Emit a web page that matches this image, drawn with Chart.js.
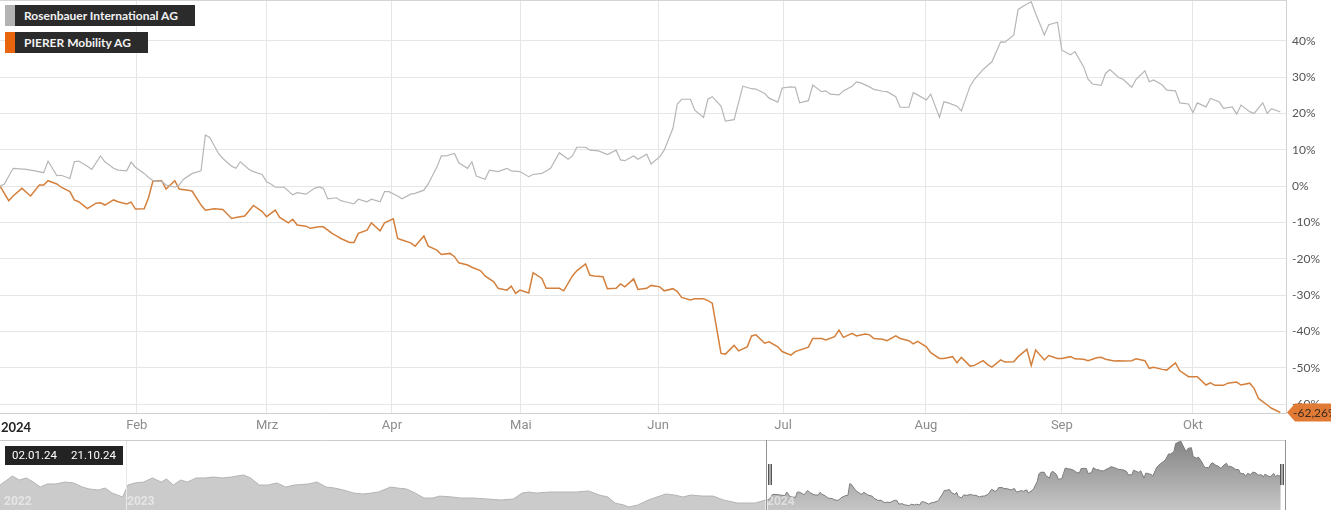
<!DOCTYPE html>
<html>
<head>
<meta charset="utf-8">
<script src="https://cdn.jsdelivr.net/npm/chart.js@4.4.1/dist/chart.umd.min.js"></script>
<style>
  body { margin: 0; background: #fff; width: 1331px; height: 510px; overflow: hidden; position: relative; font-family: Lato, sans-serif; }
  #main { position: absolute; left: 0; top: 0; }
  #nav { position: absolute; left: 0; top: 440px; }
  .leg { position: absolute; left: 5px; height: 21px; display: flex; }
  .leg .sw { width: 10px; height: 21px; }
  .leg .lab { background: #2b2b2b; color: #f2f2f2; font: bold 12px Lato, sans-serif; line-height: 21px; padding: 0 17px 0 9px; }
  #year { position: absolute; left: 1px; top: 419px; font: bold 13px Lato, sans-serif; color: #222; }
  #range { position: absolute; left: 5px; top: 446px; width: 118px; height: 19px; background: #232323; color: #fff; font: 11.5px Roboto, sans-serif; line-height: 19px; }
  #range span { position: absolute; top: 0; }
  .yr { position: absolute; top: 494px; font: bold 12px Roboto, sans-serif; color: rgba(255,255,255,0.5); }
</style>
</head>
<body>
<canvas id="main" width="1331" height="437"></canvas>
<canvas id="nav" width="1331" height="70"></canvas>

<div class="leg" style="top:5px"><span class="sw" style="background:#b3b3b3"></span><span class="lab">Rosenbauer International AG</span></div>
<div class="leg" style="top:32px"><span class="sw" style="background:#e8650d"></span><span class="lab">PIERER Mobility AG</span></div>
<div id="year">2024</div>
<div id="range"><span style="left:7px">02.01.24</span><span style="left:66px">21.10.24</span></div>
<span class="yr" style="left:4px">2022</span>
<span class="yr" style="left:127px">2023</span>
<span class="yr" style="left:767px">2024</span>

<script>
// Days since 02.01.2024, performance in %
const rbDays = [0,1,3,6,8,10,11,13,14,16,17,18,20,21,23,24,26,27,29,30,31,33,34,35,37,38,40,41,42,44,46,47,48,50,51,53,54,55,57,58,
  60,61,62,63,65,67,68,70,72,73,74,75,77,78,79,81,82,84,85,87,88,89,91,92,94,95,97,98,100,101,102,104,105,107,108,109,111,112,114,116,117,119,
  121,122,124,126,128,130,131,132,134,135,137,139,141,142,143,145,146,148,149,151,152,154,155,156,158,159,161,162,163,165,166,168,169,170,172,173,175,176,178,179,
  181,182,183,185,186,188,189,190,192,193,195,196,197,199,200,202,203,205,206,208,209,210,212,213,215,216,217,219,220,222,223,225,226,227,229,230,232,233,235,236,237,239,
  240,242,243,245,246,248,249,250,252,253,254,256,257,259,260,262,263,264,266,267,269,270,272,273,274,276,277,279,280,282,283,284,286,287,289,290,291,293];
const rbPct = [0,0.6,4.9,4.6,4.2,3.7,6.9,2.9,3.0,2.1,6.7,6.9,5.5,4.6,8.3,6.7,4.9,4.4,4.2,6.6,5.2,3.5,2.4,1.5,1.3,0.3,-0.3,0.3,1.9,3.5,4.2,14.1,13.4,9.0,7.6,5.5,4.9,6.7,4.6,4.0,
  3.2,1.2,0.6,-0.3,-0.3,-2.4,-1.8,-2.2,-0.6,-0.2,-0.6,-3.5,-3.2,-4.0,-4.3,-4.9,-3.6,-4.3,-3.6,-4.3,-1.5,-1.5,-2.7,-3.5,-2.2,-2.0,-1.1,0.6,5.3,8.3,8.3,9.0,6.4,4.9,6.7,2.8,1.9,4.4,4.0,4.9,4.2,4.0,
  2.6,3.2,3.5,4.9,9.2,7.4,8.3,10.7,10.7,9.9,9.7,8.7,9.9,7.2,7.0,8.3,7.4,8.8,6.1,8.1,9.9,15.9,22.6,23.9,23.9,20.9,18.9,23.9,24.6,22.0,17.9,18.3,22.9,27.5,26.8,26.7,25.5,24.2,23.1,27.0,
  27.3,27.2,22.9,23.5,27.8,26.0,26.2,25.3,25.1,26.2,27.5,28.7,28.4,27.3,26.6,26.1,26.0,24.6,21.7,21.7,25.7,25.1,23.7,25.3,18.9,23.2,22.9,22.0,20.7,27.5,29.4,32.1,33.2,34.2,39.7,39.6,41.6,48.6,50.1,50.7,47.5,41.6,
  44.4,45.1,37.4,36.1,37.0,32.8,29.4,28.1,27.7,31.0,32.1,29.9,29.4,27.2,29.4,31.7,28.7,29.2,27.8,26.4,26.2,22.9,22.6,20.2,22.9,21.8,24.1,23.2,21.4,21.8,19.8,22.3,20.5,20.0,22.9,20.0,21.3,20.4];

const pmDays = [0,2,3,5,7,9,10,11,13,14,16,17,18,20,22,23,24,26,27,29,30,31,33,34,35,37,38,40,41,43,44,46,47,49,51,53,54,56,58,
  60,61,63,64,66,67,68,70,71,73,74,76,77,78,80,81,82,84,85,87,88,90,91,92,94,95,97,98,100,101,103,104,105,107,108,110,111,113,114,116,117,118,119,
  121,122,124,125,127,128,129,131,132,134,135,136,138,139,141,142,143,145,146,148,149,151,152,154,155,156,158,159,161,162,163,165,166,168,169,171,172,173,175,176,178,179,
  181,182,185,186,188,189,191,192,193,195,196,198,199,200,202,203,205,206,208,209,210,212,213,215,216,218,219,220,222,223,225,226,227,229,230,232,233,235,236,237,239,
  240,242,243,245,246,248,249,251,252,253,255,256,257,259,260,262,263,264,266,267,269,270,272,273,274,276,277,278,280,281,283,284,286,287,288,290,291,293];
const pmPct = [0,-4.0,-2.7,-0.6,-2.7,0.3,0.3,1.5,0.6,-0.3,-1.5,-3.8,-4.3,-6.2,-4.7,-4.6,-5.2,-3.8,-4.3,-4.9,-4.4,-6.3,-6.2,-3.1,1.4,1.5,-0.8,1.5,-0.8,-1.1,-1.4,-5.2,-6.6,-6.2,-6.4,-8.9,-8.6,-8.2,-5.3,
  -7.0,-8.4,-6.6,-8.6,-10.1,-9.1,-10.7,-11.0,-11.6,-11.2,-11.2,-13.0,-13.7,-14.4,-15.5,-15.5,-13.0,-12.1,-10.1,-12.3,-10.1,-9.0,-14.4,-14.8,-15.6,-16.5,-13.7,-16.5,-17.6,-18.8,-18.5,-19.4,-21.1,-21.7,-22.3,-23.3,-24.7,-26.3,-28.1,-28.6,-27.5,-29.5,-28.6,
  -29.4,-23.8,-25.4,-28.1,-28.1,-28.1,-28.8,-24.7,-23.3,-21.4,-24.5,-24.7,-24.9,-28.2,-28.1,-26.9,-27.7,-25.5,-28.4,-28.1,-27.3,-27.7,-28.8,-28.2,-29.0,-30.6,-31.3,-31.0,-31.0,-31.5,-32.2,-46.0,-46.2,-43.8,-45.3,-44.2,-41.2,-40.9,-43.2,-42.8,-44.2,-45.5,
  -46.5,-45.5,-44.3,-41.9,-41.9,-42.3,-41.4,-39.6,-41.6,-40.5,-41.2,-40.7,-40.9,-41.9,-42.1,-42.5,-41.2,-41.9,-42.5,-43.4,-42.7,-44.2,-45.8,-47.4,-47.4,-46.9,-48.6,-47.1,-49.5,-49.3,-48.0,-49.1,-49.8,-47.8,-48.4,-48.3,-46.9,-44.9,-49.3,-45.1,-47.8,
  -46.6,-47.4,-47.4,-46.9,-47.5,-47.6,-48.0,-47.2,-47.1,-47.6,-48.1,-48.0,-48.1,-48.0,-47.5,-48.0,-50.1,-49.8,-50.4,-50.6,-48.6,-50.8,-52.4,-52.4,-52.4,-54.7,-54.1,-54.8,-54.8,-54.2,-53.9,-54.7,-54.2,-55.6,-58.4,-60.2,-61.1,-62.26];

// Navigator history: days since 21.10.2022, Rosenbauer performance vs 02.01.24 in %
const navHistDays = [0,4,7,11,15,19,23,27,32,37,42,47,51,56,60,64,67,70,73,77,82,87,92,95,99,103,107,112,117,122,127,132,139,143,148,153,158,163,168,
  176,181,186,191,196,202,207,212,216,223,227,232,237,242,247,251,258,263,270,278,286,293,298,302,306,314,321,329,336,342,347,351,356,359,364,370,375,380,385,390,394,401,407,413,421,431,437];
const navHistPct = [12.9,17.2,20.7,17.2,19.0,15.5,11.2,13.8,13.8,15.5,14.7,11.2,9.5,8.6,10.3,6.0,4.3,2.6,12.9,14.7,15.5,19.0,15.5,18.1,12.9,17.2,15.5,19.0,19.0,19.8,19.0,19.8,21.6,19.0,12.9,12.9,14.7,11.2,12.9,
  13.8,15.5,11.2,10.3,8.6,6.0,5.2,6.0,6.9,11.2,10.3,9.5,6.0,1.7,1.7,3.4,2.6,1.7,1.7,0.9,0,0.9,6.0,6.9,6.0,6.9,6.9,6.9,7.8,4.3,2.6,-2.6,-4.3,-6.0,-4.3,0,2.6,5.2,4.3,2.6,4.3,3.4,3.4,0,-2.6,-2.6,0];
const navOffset2024 = 438;   // 02.01.24 in navigator days
const navYear2023 = 72;      // 01.01.23 in navigator days

// month grid positions (days since 02.01.24) as placed in the original
const monthTicks = [31.3, 61.1, 89.7, 119.2, 150.6, 179.2, 211.9, 243, 273];
const monthLabels = ['Feb', 'Mrz', 'Apr', 'Mai', 'Jun', 'Jul', 'Aug', 'Sep', 'Okt'];
const yTicks = [-60, -50, -40, -30, -20, -10, 0, 10, 20, 30, 40];

Chart.defaults.font.family = 'Lato';

function toPoints(days, vals, offset = 0) {
    return days.map((d, i) => ({ x: d + offset, y: vals[i] }));
}

// Frame line on top and the end value flag of PIERER
const mainDecor = {
    id: 'mainDecor',
    afterDraw(chart) {
        const { ctx, chartArea: a } = chart;
        ctx.save();
        ctx.strokeStyle = '#d4d4d4';
        ctx.lineWidth = 1;
        ctx.beginPath();
        ctx.moveTo(a.left, a.top + 0.5);
        ctx.lineTo(a.right, a.top + 0.5);
        ctx.stroke();

        const meta = chart.getDatasetMeta(1);
        const last = meta.data[meta.data.length - 1];
        const y = last.y;
        const w = chart.width;
        ctx.fillStyle = '#e07a35';
        ctx.beginPath();
        ctx.moveTo(a.right + 1, y);
        ctx.lineTo(a.right + 9, y - 9);
        ctx.lineTo(w, y - 9);
        ctx.lineTo(w, y + 9);
        ctx.lineTo(a.right + 9, y + 9);
        ctx.closePath();
        ctx.fill();
        ctx.fillStyle = '#3a2a20';
        ctx.font = '12px Lato';
        ctx.textBaseline = 'middle';
        ctx.fillText(pmPct[pmPct.length - 1].toFixed(2).replace('.', ',') + '%', a.right + 7, y + 1);
        ctx.restore();
    }
};

new Chart(document.getElementById('main'), {
    type: 'line',
    data: {
        datasets: [{
            label: 'Rosenbauer International AG',
            data: toPoints(rbDays, rbPct),
            borderColor: '#b6b6b6',
            borderWidth: 1.2,
            pointRadius: 0,
            tension: 0
        }, {
            label: 'PIERER Mobility AG',
            data: toPoints(pmDays, pmPct),
            borderColor: '#d4803c',
            borderWidth: 1.5,
            pointRadius: 0,
            tension: 0
        }]
    },
    options: {
        responsive: false,
        animation: false,
        layout: { padding: 0 },
        plugins: { legend: { display: false }, tooltip: { enabled: false } },
        scales: {
            x: {
                type: 'linear',
                min: 0,
                max: 294.3,
                afterBuildTicks: scale => { scale.ticks = monthTicks.map(v => ({ value: v })); },
                afterFit: scale => { scale.height = 24; scale.paddingLeft = 0; scale.paddingRight = 0; },
                ticks: {
                    callback: v => monthLabels[monthTicks.indexOf(v)],
                    color: '#8c8c8c',
                    font: { family: 'Roboto', size: 13 },
                    padding: 5,
                    maxRotation: 0,
                    autoSkip: false
                },
                grid: { color: '#e6e6e6', drawTicks: false },
                border: { color: '#d0d0d0' }
            },
            y: {
                position: 'right',
                min: -62.4,
                max: 51.2,
                afterBuildTicks: scale => { scale.ticks = yTicks.map(v => ({ value: v })); },
                afterFit: scale => { scale.width = 45; scale.paddingTop = 0; scale.paddingBottom = 0; },
                ticks: {
                    callback: v => v + '%',
                    color: '#555',
                    font: { size: 12 },
                    padding: 6
                },
                grid: { color: '#e6e6e6', drawTicks: false },
                border: { color: '#d0d0d0' }
            }
        }
    },
    plugins: [mainDecor]
});

// Navigator frame, year line, selection and handles
const navDecor = {
    id: 'navDecor',
    afterDatasetsDraw(chart) {
        const { ctx, chartArea: a, scales: { x } } = chart;
        ctx.save();
        ctx.lineWidth = 1;
        const yl = Math.round(x.getPixelForValue(navYear2023)) + 0.5;
        ctx.strokeStyle = '#e8e8e8';
        ctx.beginPath(); ctx.moveTo(yl, a.top); ctx.lineTo(yl, a.bottom); ctx.stroke();

        ctx.strokeStyle = '#cccccc';
        ctx.beginPath(); ctx.moveTo(a.left, a.top + 0.5); ctx.lineTo(a.right, a.top + 0.5); ctx.stroke();

        const sl = Math.round(x.getPixelForValue(navOffset2024 - 1)) + 0.5;
        const sr = a.right - 0.5;
        ctx.strokeStyle = '#939393';
        ctx.beginPath();
        ctx.moveTo(sl, a.top); ctx.lineTo(sl, a.bottom);
        ctx.moveTo(sr, a.top); ctx.lineTo(sr, a.bottom);
        ctx.stroke();

        ctx.strokeStyle = '#555';
        [sl + 2, sr - 5].forEach(h => {
            ctx.beginPath();
            for (let k = 0; k < 3; k++) {
                ctx.moveTo(h + k * 1.5, a.top + 24);
                ctx.lineTo(h + k * 1.5, a.top + 45);
            }
            ctx.stroke();
        });
        ctx.restore();
    }
};

new Chart(document.getElementById('nav'), {
    type: 'line',
    data: {
        datasets: [{
            data: toPoints(navHistDays, navHistPct),
            borderColor: '#b4b4b4',
            backgroundColor: '#cbcbcb',
            borderWidth: 1,
            fill: 'start',
            pointRadius: 0,
            tension: 0
        }, {
            data: toPoints(rbDays, rbPct, navOffset2024),
            borderColor: '#7c7c7c',
            backgroundColor: ctx => {
                const area = ctx.chart.chartArea;
                if (!area) return '#a0a0a0';
                const g = ctx.chart.ctx.createLinearGradient(0, area.top, 0, area.bottom);
                g.addColorStop(0, '#848484');
                g.addColorStop(1, '#c6c6c6');
                return g;
            },
            borderWidth: 1,
            fill: 'start',
            pointRadius: 0,
            tension: 0
        }]
    },
    options: {
        responsive: false,
        animation: false,
        layout: { padding: { right: 45 } },
        plugins: { legend: { display: false }, tooltip: { enabled: false } },
        scales: {
            x: { type: 'linear', min: 0, max: 734, display: false },
            y: { min: -8.6, max: 51.7, display: false }
        }
    },
    plugins: [navDecor]
});
</script>
</body>
</html>
